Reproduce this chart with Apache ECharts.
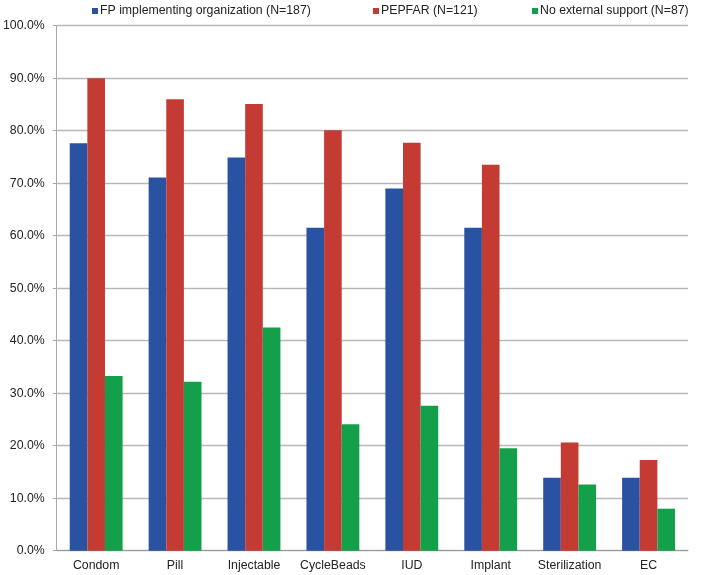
<!DOCTYPE html>
<html>
<head>
<meta charset="utf-8">
<script src="https://cdn.jsdelivr.net/npm/echarts@6/dist/echarts.min.js"></script>
<style>
html,body{margin:0;padding:0;background:#fff;}
#chart{width:702px;height:575px;}
</style>
</head>
<body>
<div id="chart"></div>
<script>
const categories = ['Condom','Pill','Injectable','CycleBeads','IUD','Implant','Sterilization','EC'];
const seriesNames = ['FP implementing organization (N=187)','PEPFAR (N=121)','No external support (N=87)'];
const fpValues = [77.6, 71.1, 74.9, 61.5, 69.0, 61.5, 13.9, 13.9];
const pepfarValues = [90.0, 86.0, 85.1, 80.1, 77.7, 73.5, 20.6, 17.3];
const noSupportValues = [33.3, 32.2, 42.5, 24.1, 27.6, 19.5, 12.6, 8.0];
const colors = ['#2A52A3', '#C43B34', '#14A04A'];

const chart = echarts.init(document.getElementById('chart'), null, {renderer:'canvas'});
const font = 'Liberation Sans, Arial, sans-serif';
const legendLefts = [92, 373, 532];
const option = {
  animation: false,
  textStyle: {fontFamily: font},
  legend: seriesNames.map((n, i) => ({
    data: [n],
    left: legendLefts[i],
    top: 5,
    itemWidth: 6,
    itemHeight: 6,
    icon: 'rect',
    padding: 0,
    textStyle: {fontFamily: font, fontSize: 12.3, color: '#222', padding: [0,0,0,-3]}
  })),
  grid: {left: 55, right: 14, top: 25.7, bottom: 24.3, containLabel: false},
  xAxis: {
    type: 'category',
    data: categories,
    axisLine: {lineStyle: {color: '#999', width: 1}},
    axisTick: {show: false},
    axisLabel: {color: '#222', fontSize: 12.3, fontFamily: font, margin: 9, interval: 0}
  },
  yAxis: {
    type: 'value',
    min: 0, max: 100, interval: 10,
    axisLine: {show: true, lineStyle: {color: '#aaa'}},
    axisTick: {show: true, length: 4, lineStyle: {color: '#aaa'}},
    splitLine: {lineStyle: {color: '#b8b8b8', width: 1.3}},
    axisLabel: {color: '#222', fontSize: 12.3, fontFamily: font, margin: 12,
      formatter: v => v.toFixed(1) + '%'}
  },
  series: [fpValues, pepfarValues, noSupportValues].map((d, i) => ({
    name: seriesNames[i],
    type: 'bar',
    data: d,
    barGap: '0%',
    barCategoryGap: '33%',
    itemStyle: {color: colors[i]}
  }))
};
chart.setOption(option);
</script>
</body>
</html>
